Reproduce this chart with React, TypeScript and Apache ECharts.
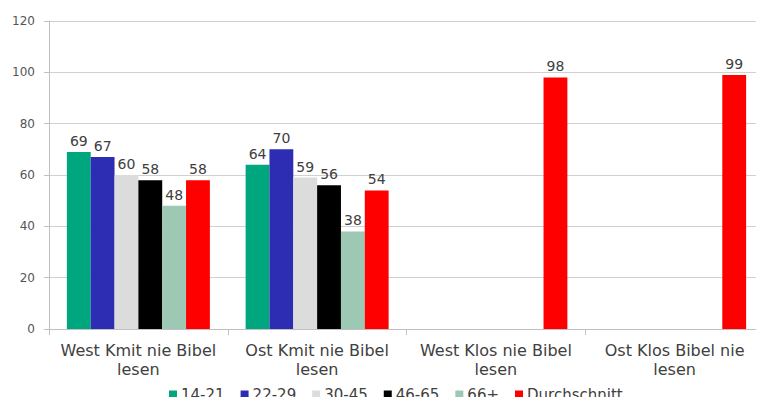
import React, { useEffect, useRef } from "react";
import * as echarts from "echarts";

const categories = [
  "West Kmit nie Bibel\nlesen",
  "Ost Kmit nie Bibel\nlesen",
  "West Klos nie Bibel\nlesen",
  "Ost Klos Bibel nie\nlesen",
];
const seriesNames = ["14-21", "22-29", "30-45", "46-65", "66+", "Durchschnitt"];
const v1421 = [69, 64, null, null];
const v2229 = [67, 70, null, null];
const v3045 = [60, 59, null, null];
const v4665 = [58, 56, null, null];
const v66 = [48, 38, null, null];
const vAvg = [58, 54, 98, 99];
const yTicks = [0, 20, 40, 60, 80, 100, 120];

const colors = ["#00a67e", "#2d2db4", "#dcdcdc", "#000000", "#9cc8b4", "#ff0000"];
const FONT = "DejaVu Sans";

export default function App() {
  const ref = useRef<HTMLDivElement>(null);
  useEffect(() => {
    if (!ref.current) return;
    const chart = echarts.init(ref.current, undefined, { renderer: "svg" });
    const data = [v1421, v2229, v3045, v4665, v66, vAvg];
    chart.setOption({
      animation: false,
      textStyle: { fontFamily: FONT },
      grid: { left: 49, top: 21, bottom: 76, right: -5, containLabel: false },
      legend: {
        bottom: 3,
        left: 169,
        padding: 0,
        itemWidth: 8,
        itemHeight: 8,
        itemGap: 16,
        icon: "rect",
        textStyle: { fontFamily: FONT, fontSize: 15, color: "#404040", padding: [0, 0, 0, -1] },
        data: seriesNames,
      },
      xAxis: {
        type: "category",
        data: categories,
        axisLine: { lineStyle: { color: "#c0c0c0" } },
        axisTick: { show: true, interval: 0, length: 6, lineStyle: { color: "#c0c0c0" } },
        axisLabel: { interval: 0, fontFamily: FONT, fontSize: 16, color: "#404040", lineHeight: 19, margin: 12 },
      },
      yAxis: {
        type: "value",
        min: yTicks[0],
        max: yTicks[yTicks.length - 1],
        interval: 20,
        axisLine: { show: true, lineStyle: { color: "#c0c0c0" } },
        axisTick: { show: true, length: 5, lineStyle: { color: "#c0c0c0" } },
        splitLine: { lineStyle: { color: "#d0d0d0" } },
        axisLabel: { fontFamily: FONT, fontSize: 12, color: "#555555", margin: 14 },
      },
      series: seriesNames.map((name, i) => ({
        name,
        type: "bar",
        data: data[i],
        barGap: "0%",
        barCategoryGap: "20%",
        itemStyle: { color: colors[i] },
        label: {
          show: true,
          position: "top",
          distance: 4,
          fontFamily: FONT,
          fontSize: 14,
          color: "#404040",
        },
      })),
    });
    return () => chart.dispose();
  }, []);
  return <div ref={ref} style={{ width: 764, height: 405, margin: -8 }} />;
}
